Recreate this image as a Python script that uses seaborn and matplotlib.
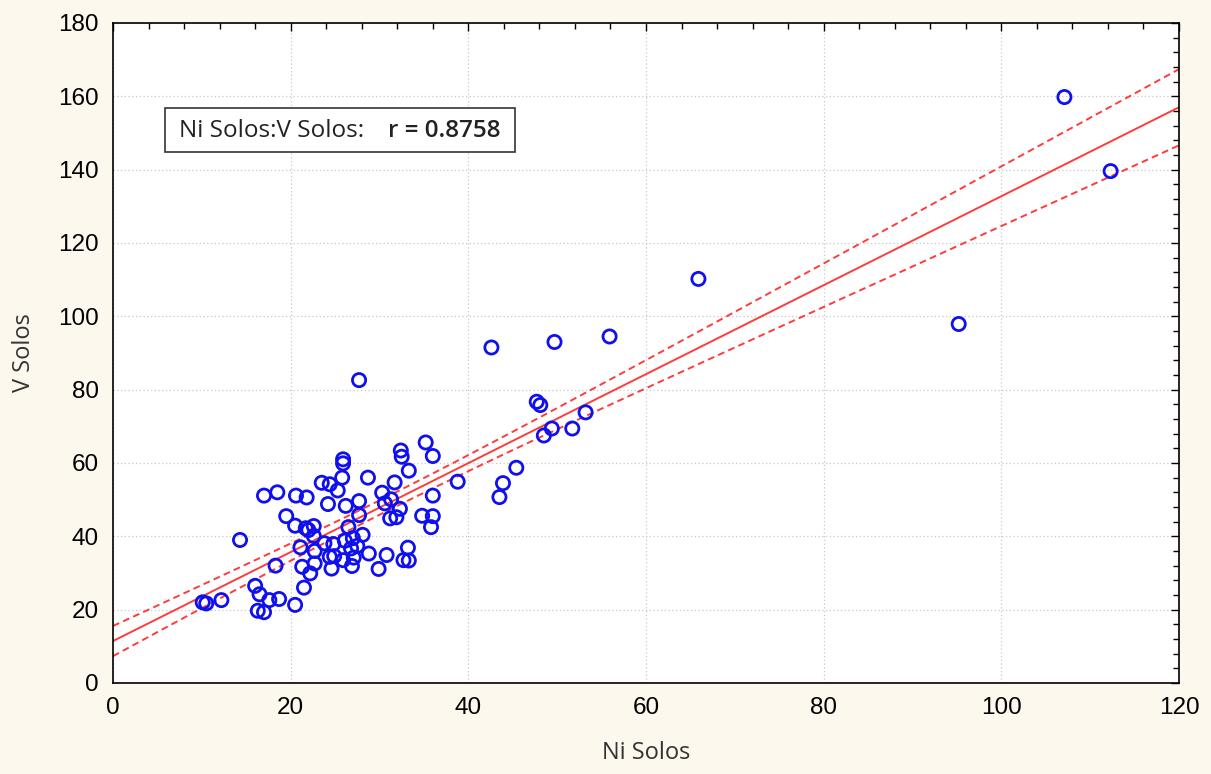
import numpy as np
import pandas as pd
import matplotlib
matplotlib.use("Agg")
import matplotlib.pyplot as plt
from matplotlib.ticker import MultipleLocator
from matplotlib.patches import Rectangle
import seaborn as sns

# Soil concentrations (mg/kg): nickel vs vanadium
ni_solos = [
    107.1, 112.3, 95.2, 65.9, 55.9, 49.7, 42.6, 27.7, 47.7, 48.1,
    53.2, 51.7, 49.4, 48.5, 45.4, 43.9, 43.5, 38.8, 35.2, 32.4,
    32.5, 36.0, 25.9, 25.9, 33.3, 28.7, 25.8, 31.7, 25.3, 30.3,
    31.3, 30.6, 27.7, 26.2, 36.0, 32.3, 31.2, 31.9, 27.7, 34.8,
    36.0, 35.8, 26.5, 28.1, 27.0, 26.1, 24.8, 27.5, 26.8, 33.2,
    25.9, 27.1, 28.8, 30.8, 32.7, 33.3, 26.9, 29.9, 24.6, 17.0,
    18.5, 20.6, 21.8, 23.5, 24.4, 24.2, 19.5, 20.5, 21.7, 22.6,
    22.0, 22.6, 14.3, 21.1, 22.7, 23.8, 24.4, 24.9, 22.7, 21.3,
    22.2, 18.3, 21.5, 16.0, 16.5, 17.6, 18.7, 12.2, 10.1, 10.5,
    16.3, 17.0, 20.5,
]
v_solos = [
    159.8, 139.6, 97.9, 110.2, 94.5, 93.0, 91.5, 82.6, 76.7, 75.8,
    73.8, 69.4, 69.4, 67.5, 58.7, 54.5, 50.7, 54.9, 65.6, 63.4,
    61.7, 61.9, 61.0, 59.9, 57.9, 56.0, 56.0, 54.7, 52.5, 51.9,
    50.1, 49.0, 49.6, 48.3, 51.1, 47.5, 44.9, 45.2, 45.8, 45.6,
    45.5, 42.5, 42.5, 40.4, 39.5, 38.8, 37.9, 37.4, 36.7, 36.9,
    33.5, 34.2, 35.3, 34.9, 33.5, 33.4, 31.9, 31.1, 31.2, 51.1,
    52.0, 51.1, 50.6, 54.6, 54.2, 48.8, 45.5, 42.9, 42.2, 42.8,
    41.7, 40.1, 39.0, 37.0, 36.0, 38.1, 34.4, 34.6, 32.6, 31.7,
    29.9, 32.0, 26.0, 26.5, 24.2, 22.6, 22.9, 22.6, 22.0, 21.7,
    19.7, 19.3, 21.3,
]
x_ticks = [0, 20, 40, 60, 80, 100, 120]
y_ticks = [0, 20, 40, 60, 80, 100, 120, 140, 160, 180]
x_label = "Ni Solos"
y_label = "V Solos"
box_left = "Ni Solos:V Solos:"
box_right = "r = 0.8758"

df = pd.DataFrame({x_label: ni_solos, y_label: v_solos})

# Least-squares fit and confidence band of the mean response
x = np.asarray(ni_solos)
y = np.asarray(v_solos)
n = len(x)
slope, intercept = np.polyfit(x, y, 1)
resid = y - (intercept + slope * x)
s = np.sqrt(np.sum(resid ** 2) / (n - 2))
t_crit = 1.64
xg = np.linspace(0, 120, 121)
yg = intercept + slope * xg
half = t_crit * s * np.sqrt(1.0 / n + (xg - x.mean()) ** 2 / np.sum((x - x.mean()) ** 2))
fit = pd.DataFrame({"x": xg, "fit": yg, "lo": yg - half, "hi": yg + half})

sns.set_theme(style="white")
plt.rcParams["font.family"] = ["Liberation Sans", "DejaVu Sans"]

bg = "#fcf8ee"
fig = plt.figure(figsize=(12.11, 7.74), dpi=100, facecolor=bg)
ax = fig.add_axes([0.0933, 0.1176, 0.8803, 0.8527])
ax.set_facecolor("white")

red = "#ff3b3b"
sns.lineplot(data=fit, x="x", y="fit", ax=ax, color=red, lw=1.4, zorder=2)
sns.lineplot(data=fit, x="x", y="hi", ax=ax, color=red, lw=1.4,
             linestyle=(0, (3.5, 2.2)), zorder=2)
sns.lineplot(data=fit, x="x", y="lo", ax=ax, color=red, lw=1.4,
             linestyle=(0, (3.5, 2.2)), zorder=2)
sns.scatterplot(data=df, x=x_label, y=y_label, ax=ax, marker="o", s=90,
                facecolor="none", edgecolor="#1010ee", linewidth=2.0, zorder=3)

ax.set_xlim(0, 120)
ax.set_ylim(0, 180)
ax.set_xticks(x_ticks)
ax.set_yticks(y_ticks)
ax.xaxis.set_minor_locator(MultipleLocator(4))
ax.yaxis.set_minor_locator(MultipleLocator(4))
ax.tick_params(which="both", direction="in", top=True, right=True,
               colors="black", width=1)
ax.tick_params(which="major", length=6, labelsize=17.5, pad=10)
ax.tick_params(which="minor", length=4)
for side in ax.spines.values():
    side.set_color("black")
    side.set_linewidth(1.2)
ax.grid(True, which="major", color="#c8c8c8", linestyle=(0, (1, 2)), lw=0.9)
ax.set_axisbelow(True)

ax.set_xlabel(x_label, fontsize=17, family="Open Sans", color="#333333", labelpad=16)
ax.set_ylabel(y_label, fontsize=17, family="Open Sans", color="#333333", labelpad=16)

# Correlation annotation box
ax.add_patch(Rectangle((5.85, 144.8), 39.35, 12.0, facecolor="white",
                       edgecolor="#333333", lw=1.2, zorder=4))
ax.text(7.4, 150.6, box_left, fontsize=17.5, family="Open Sans", va="center",
        ha="left", color="#222222", zorder=5)
ax.text(31.0, 150.6, box_right, fontsize=17.5, family="Open Sans",
        fontweight="semibold", va="center", ha="left", color="#222222", zorder=5)

fig.savefig("out.png", dpi=100, facecolor=bg)
